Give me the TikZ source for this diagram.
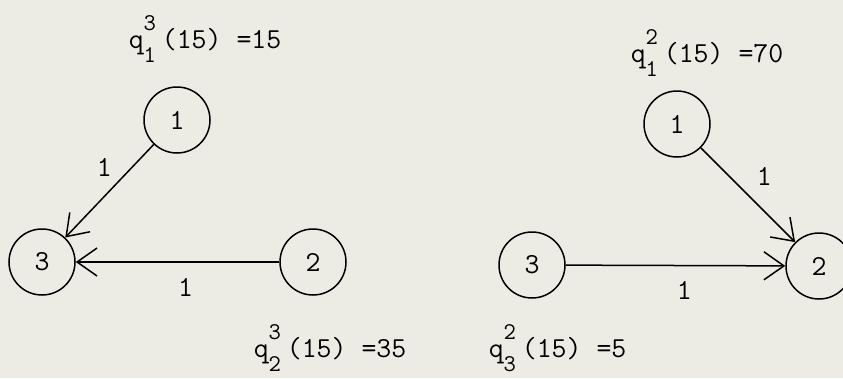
\documentclass[tikz,border=0pt]{standalone}
\usepackage{fontspec}
\usetikzlibrary{arrows.meta}
\definecolor{paper}{RGB}{236,236,228}
\newcommand{\subfnt}{\fontsize{24}{24}\selectfont}
\newcommand{\qval}[3]{q\raisebox{0.6em}{\rlap{\subfnt #1}}\raisebox{-0.5em}{\subfnt #2}\hspace{0.2em}#3}

\begin{document}
\begin{tikzpicture}[x=1pt,y=-1pt,line width=1.5pt,
  font=\fontsize{29}{34}\selectfont\ttfamily,
  vertex/.style={circle,draw,minimum size=66pt,inner sep=0pt},
  weight/.style={inner sep=0pt},
  flow/.style={anchor=base west,inner sep=0pt},
  arc/.style={-{Straight Barb[length=20pt,width=28pt,line width=1.5pt]}}]
\fill[paper] (0,0) rectangle (843,378);
\useasboundingbox (0,0) rectangle (843,378);
% left network
\node[vertex] (l1) at (177,120) {1};
\node[vertex] (l2) at (313,262) {2};
\node[vertex] (l3) at (42,262) {3};
\draw[arc] (l1) -- node[weight,pos=0.25,left=19pt] {1} (l3);
\draw[arc] (l2) -- node[weight,pos=0.46,below=16pt] {1} (l3);
\node[flow] (lq1) at (128,48) {\qval{3}{1}{(15) =15}};
\node[flow] (lq2) at (253,357) {\qval{3}{2}{(15) =35}};
% right network
\node[vertex] (r1) at (677,124) {1};
\node[vertex] (r2) at (819,266) {2};
\node[vertex] (r3) at (532,265) {3};
\draw[arc] (r1) -- node[weight,pos=0.3,right=27pt] {1} (r2);
\draw[arc] (r3) -- node[weight,pos=0.54,below=15pt] {1} (r2);
\node[flow] (rq1) at (630,62) {\qval{2}{1}{(15) =70}};
\node[flow] (rq2) at (488,357) {\qval{2}{3}{(15) =5}};
\end{tikzpicture}
\end{document}
